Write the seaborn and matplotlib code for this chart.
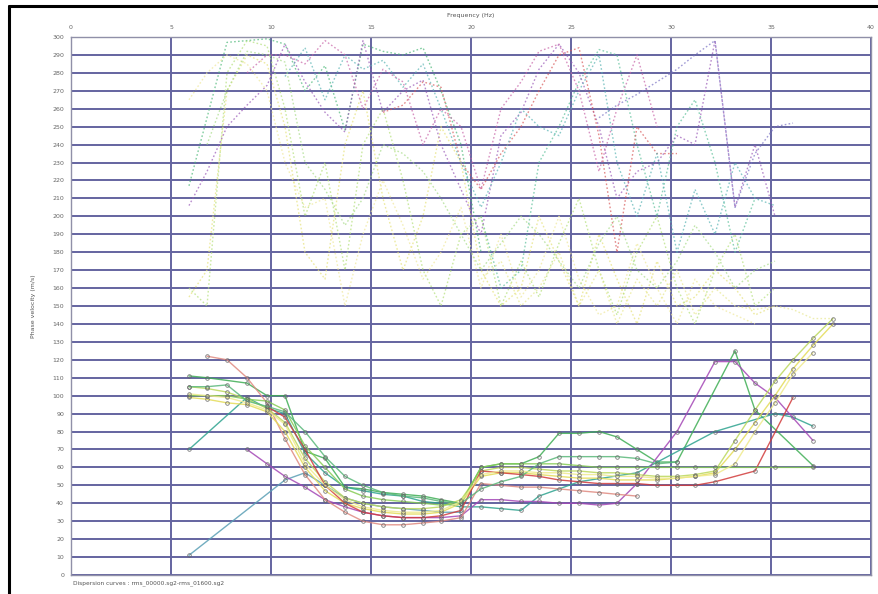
import numpy as np
import pandas as pd
import matplotlib
matplotlib.use("Agg")
import matplotlib.pyplot as plt
import seaborn as sns

# frequency samples shared by every curve (Hz)
FREQ = [5.9, 6.8, 7.8, 8.8, 9.8, 10.7, 11.7, 12.7, 13.7, 14.6, 15.6, 16.6, 17.6, 18.5, 19.5,
        20.5, 21.5, 22.5, 23.4, 24.4, 25.4, 26.4, 27.3, 28.3, 29.3, 30.3, 31.2, 32.2, 33.2,
        34.2, 35.2, 36.1, 37.1, 38.1]
N = None

# fundamental-mode picks (solid lines with markers), phase velocity in m/s
fund_a = [111, 110, N, 107, 100, 100, 69, 65, 49, 48, 46, 45, 44, 42, 40, 60, 62, 62, 66, 79, 79, 80, 77, 70, 63, 63, N, N, 125, 92, N, N, 61, N]
fund_b = [70, N, N, 99, 93, 90, 68, 57, 49, 47, 45, 44, 41, 40, 38, 38, 37, 36, 44, N, 52, N, N, 57, N, N, N, 80, N, N, 90, 88, 83, N]
fund_c = [11, N, N, N, N, 53, 57, 50, 43, 40, 38, 37, 36, 35, 35, N, N, N, N, N, N, N, N, N, N, N, N, N, N, N, N, N, N, N]
fund_d = [N, N, N, 70, 62, 55, 49, 42, 38, 35, 33, 32, 32, 32, 33, 42, 42, 41, 41, 40, 40, 39, 40, 51, N, 80, N, 119, 119, 107, 99, N, 75, N]
fund_e = [N, 122, 120, 110, 96, 76, 56, 42, 35, 30, 28, 28, 29, 30, 32, 51, 50, 49, 49, 48, 47, 46, 45, 44, N, N, N, N, N, N, N, N, N, N]
fund_f = [99, 98, 96, 95, 91, 80, 60, 47, 40, 37, 35, 34, 34, 35, 40, 55, 57, 57, 56, 55, 54, 54, 53, 53, 53, 54, 55, 57, 70, 85, 100, 115, 128, 140]
fund_g = [105, 104, 102, 98, 93, 85, 65, 52, 43, 40, 38, 37, 37, 38, 42, 58, 60, 60, 59, 58, 58, 57, 57, 56, 55, 55, 56, 58, 75, 92, 108, 120, 132, 143]
fund_h = [N, N, N, N, 94, 88, 70, 50, 40, 35, 33, 32, 32, 33, 36, 58, 57, 56, 55, 53, 52, 51, 51, 51, 50, 50, 50, 52, N, 58, N, 99, N, N]
fund_i = [100, 100, 100, 98, 97, 92, 72, 60, 48, 44, 42, 41, 40, 39, 40, 60, 62, 62, 62, 62, 61, 60, 60, 60, 60, 60, 60, 60, N, N, 60, N, 60, N]
fund_j = [105, 105, 106, 97, 94, 91, 80, 66, 55, 50, 46, 44, 43, 41, 40, 48, 52, 55, 62, 66, 66, 66, 66, 65, 62, 63, N, N, N, N, N, N, N, N]
fund_k = [101, 100, 99, 96, 92, 84, 62, 50, 42, 38, 36, 35, 35, 36, 41, 56, 58, 58, 57, 57, 56, 56, 55, 55, 54, 54, 55, 56, 62, 80, 96, 112, 124, N]

# higher-mode picks (dotted lines)
high_1 = [217, 255, 297, 298, 299, 296, 270, 284, 248, 296, 292, 290, 294, 270, 240, 180, N, N, N, N, N, N, N, N, N, N, N, N, N, N, N, N, N, N]
high_2 = [N, N, N, N, N, N, N, N, N, N, N, N, N, N, N, 200, 160, 170, 230, 250, 275, 293, 290, 240, 200, 250, 265, 230, 180, 210, N, N, N, N]
high_3 = [155, 170, 270, 290, 285, 250, 180, 165, 240, 270, 210, 170, 200, 250, 230, 170, 150, 160, 200, 175, 150, 190, 165, 140, 175, 150, 155, 170, 160, 145, 150, N, N, N]
high_4 = [160, 150, 280, 298, 295, 260, 200, 230, 170, 240, 260, 220, 170, 150, 190, 200, 150, 175, 155, 185, 210, 170, 145, 180, 200, 160, 140, 170, 190, 150, 160, N, N, N]
high_5 = [206, 225, 250, 262, 273, 296, 275, 258, 247, 298, 258, 270, 276, 240, 215, 190, 245, 258, 282, 296, 280, 250, 210, 225, 230, 245, 240, 298, 205, 240, 200, N, N, N]
high_6 = [N, N, N, N, N, N, N, N, N, N, 258, 262, 275, 272, 230, 215, 235, 250, 270, 290, 294, 245, 180, 250, 235, 235, N, N, N, N, N, N, N, N]
high_7 = [N, N, N, N, N, 278, 294, 265, 290, 282, 287, 272, 285, 260, 230, 205, 230, 260, 250, 245, 270, 290, 230, 200, 235, 180, 215, 190, 230, 210, 206, N, N, N]
high_8 = [N, N, N, 280, 290, 290, 285, 298, 290, 260, 282, 275, 240, 260, 250, 215, 260, 275, 292, 296, 270, 225, 260, 290, 250, N, N, N, N, N, N, N, N, N]
high_9 = [265, 280, 290, 285, 270, 230, 205, 210, 150, 190, 220, 195, 165, 180, 205, 160, 190, 155, 170, 200, 165, 145, 150, 185, 160, 140, 165, 150, 145, 140, N, N, N, N]
high_10 = [N, N, N, N, N, N, N, N, N, N, N, N, N, N, N, N, N, N, N, N, N, 255, 262, 268, 275, 282, 290, 298, 205, 235, 250, 252, N, N]
high_11 = [N, N, N, N, N, N, N, N, N, N, N, N, N, N, N, 165, 175, 150, 160, 180, 150, 170, 140, 165, 150, 170, 145, 160, 150, 148, 150, 148, 143, 143]
high_12 = [N, 240, 270, 292, 290, 286, 230, 215, 195, 210, 240, 235, 225, 210, 190, 170, 185, 200, 190, 175, 160, 185, 200, 170, 160, 175, 195, 180, 160, 170, 175, N, N, N]

fund_curves = {"fa": fund_a, "fb": fund_b, "fc": fund_c, "fd": fund_d, "fe": fund_e, "ff": fund_f,
               "fg": fund_g, "fh": fund_h, "fi": fund_i, "fj": fund_j, "fk": fund_k}
fund_colors = {"fa": "#3fae55", "fb": "#2ea38f", "fc": "#5a9fb5", "fd": "#a447b6", "fe": "#e08a80",
               "ff": "#e4dc58", "fg": "#bcd85c", "fh": "#d23c3c", "fi": "#86cc55", "fj": "#5ab87a",
               "fk": "#efea8c"}
high_curves = {"h1": high_1, "h2": high_2, "h3": high_3, "h4": high_4, "h5": high_5, "h6": high_6,
               "h7": high_7, "h8": high_8, "h9": high_9, "h10": high_10, "h11": high_11, "h12": high_12}
high_colors = {"h1": "#4cb878", "h2": "#5cc09a", "h3": "#e6e27a", "h4": "#b4e07a", "h5": "#9a5ab8",
               "h6": "#d85a5a", "h7": "#5ab4b4", "h8": "#c864a8", "h9": "#efe89a", "h10": "#7a72c4",
               "h11": "#e8e890", "h12": "#a8dc88"}


def to_long(curves):
    rows = []
    for name, vals in curves.items():
        for f, v in zip(FREQ, vals):
            if v is not None:
                rows.append({"freq": f, "vel": v, "curve": name})
    return pd.DataFrame(rows)


df_fund = to_long(fund_curves)
df_high = to_long(high_curves)

sns.set_style("white")
plt.rcParams["font.family"] = ["DejaVu Sans"]

fig = plt.figure(figsize=(8.79, 5.94), dpi=100)
ax = fig.add_axes([71 / 879, 1 - 575 / 594, 800 / 879, 538 / 594])

# grid
for y in range(0, 301, 10):
    ax.axhline(y, color="#6464a0", lw=1.4, zorder=1)
for x in range(0, 41, 5):
    ax.axvline(x, color="#6464a0", lw=1.4, zorder=1)

sns.lineplot(data=df_high, x="freq", y="vel", hue="curve", palette=high_colors,
             estimator=None, sort=False, ax=ax, legend=False, lw=1.0, alpha=0.7,
             linestyle=(0, (1.2, 1.6)), zorder=2)
sns.lineplot(data=df_fund, x="freq", y="vel", hue="curve", palette=fund_colors,
             estimator=None, sort=False, ax=ax, legend=False, lw=1.0, alpha=0.85,
             marker="o", markersize=2.6, markerfacecolor="none", markeredgecolor="#666666",
             markeredgewidth=0.6, zorder=3)

ax.set_xlim(0, 40)
ax.set_ylim(0, 300)
ax.set_xticks(range(0, 41, 5))
ax.set_yticks(range(0, 301, 10))
ax.xaxis.tick_top()
ax.xaxis.set_label_position("top")
ax.tick_params(length=0, labelsize=4.5, labelcolor="#666666", pad=5)
ax.set_xlabel("Frequency (Hz)", fontsize=4.5, color="#555555", labelpad=6)
ax.set_ylabel("Phase velocity (m/s)", fontsize=4.5, color="#555555", labelpad=12)
for s in ax.spines.values():
    s.set_color("#9090a8")
    s.set_linewidth(1.0)

fig.text(73 / 879, 1 - 583 / 594, "Dispersion curves : rms_00000.sg2-rms_01600.sg2",
         fontsize=4.2, color="#555555", va="center")

# outer black frame (top and left edges visible)
fig.add_artist(plt.Line2D([9 / 879, 1.0], [1 - 6 / 594, 1 - 6 / 594], color="black", lw=2.2,
                          transform=fig.transFigure))
fig.add_artist(plt.Line2D([9 / 879, 9 / 879], [0, 1 - 6 / 594], color="black", lw=2.2,
                          transform=fig.transFigure))

fig.savefig("out.png", dpi=100)
